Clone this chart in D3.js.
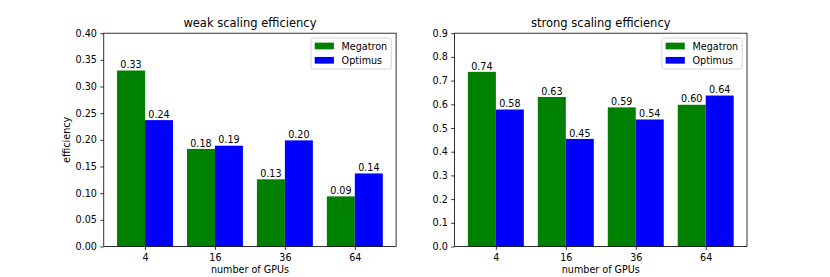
<!DOCTYPE html>
<html>
<head>
<meta charset="utf-8">
<script src="https://cdn.jsdelivr.net/npm/d3@7"></script>
<style>
  body { margin: 0; background: #fff; }
  svg { font-family: "DejaVu Sans", sans-serif; }
</style>
</head>
<body>
<div id="main"></div>
<script>
const gpus = ["4", "16", "36", "64"];
const seriesNames = ["Megatron", "Optimus"];
const seriesColors = ["green", "blue"];

const weakMegatron = [0.330, 0.183, 0.126, 0.094];
const weakOptimus = [0.237, 0.189, 0.199, 0.137];
const weakTicks = [0, 0.05, 0.10, 0.15, 0.20, 0.25, 0.30, 0.35, 0.40];

const strongMegatron = [0.737, 0.631, 0.587, 0.598];
const strongOptimus = [0.578, 0.454, 0.536, 0.637];
const strongTicks = [0, 0.1, 0.2, 0.3, 0.4, 0.5, 0.6, 0.7, 0.8, 0.9];

const width = 830, height = 277;
const plotTop = 33.2, plotBottom = 246.5;
const barW = 0.4;
const fs = 9.6, titleFs = 11.5;

const svg = d3.select("#main").append("svg")
    .attr("width", width)
    .attr("height", height);

function drawPanel(left, right, title, series, ticks, tickFmt, yLabel) {
    const g = svg.append("g");

    const x = d3.scaleLinear()
        .domain([-0.59, gpus.length - 1 + 0.59])
        .range([left, right]);
    const y = d3.scaleLinear()
        .domain([ticks[0], ticks[ticks.length - 1]])
        .range([plotBottom, plotTop]);

    // bars + value labels
    series.forEach((vals, s) => {
        const off = s === 0 ? -barW : 0;
        g.selectAll(null)
            .data(vals)
            .enter().append("rect")
            .attr("x", (d, i) => x(i + off))
            .attr("y", d => y(d))
            .attr("width", x(barW) - x(0))
            .attr("height", d => y(0) - y(d))
            .attr("fill", seriesColors[s]);

        g.selectAll(null)
            .data(vals)
            .enter().append("text")
            .attr("x", (d, i) => x(i + off + barW / 2))
            .attr("y", d => y(d) - 2.3)
            .attr("text-anchor", "middle")
            .attr("font-size", fs)
            .text(d => d.toFixed(2));
    });

    // axes
    const xAxis = d3.axisBottom(x)
        .tickValues(d3.range(gpus.length))
        .tickFormat(i => gpus[i])
        .tickSize(3.4)
        .tickPadding(3.4);
    const gx = g.append("g")
        .attr("transform", `translate(0,${plotBottom})`)
        .call(xAxis);

    const yAxis = d3.axisLeft(y)
        .tickValues(ticks)
        .tickFormat(tickFmt)
        .tickSize(3.4)
        .tickPadding(3.4);
    const gy = g.append("g")
        .attr("transform", `translate(${left},0)`)
        .call(yAxis);

    [gx, gy].forEach(a => {
        a.select(".domain").remove();
        a.selectAll(".tick line").attr("stroke", "#000").attr("stroke-width", 0.8);
        a.selectAll(".tick text")
            .attr("font-size", fs)
            .attr("fill", "#000")
            .attr("font-family", "DejaVu Sans, sans-serif");
    });
    gx.selectAll(".tick text").attr("dy", "0.8em");

    // frame
    g.append("rect")
        .attr("x", left)
        .attr("y", plotTop)
        .attr("width", right - left)
        .attr("height", plotBottom - plotTop)
        .attr("fill", "none")
        .attr("stroke", "#000")
        .attr("stroke-width", 0.8);

    // title and axis labels
    g.append("text")
        .attr("x", (left + right) / 2)
        .attr("y", plotTop - 6)
        .attr("text-anchor", "middle")
        .attr("font-size", titleFs)
        .text(title);

    g.append("text")
        .attr("x", (left + right) / 2)
        .attr("y", 273)
        .attr("text-anchor", "middle")
        .attr("font-size", fs)
        .text("number of GPUs");

    if (yLabel) {
        g.append("text")
            .attr("transform", `translate(${left - 34.2},${(plotTop + plotBottom) / 2}) rotate(-90)`)
            .attr("text-anchor", "middle")
            .attr("font-size", fs)
            .text(yLabel);
    }

    // legend
    const lw = 80.4, lh = 31;
    const lx = right - 4.8 - lw, ly = plotTop + 4.8;
    const leg = g.append("g").attr("transform", `translate(${lx},${ly})`);
    leg.append("rect")
        .attr("width", lw)
        .attr("height", lh)
        .attr("rx", 2)
        .attr("fill", "#fff")
        .attr("fill-opacity", 0.8)
        .attr("stroke", "#ccc")
        .attr("stroke-width", 0.8);
    seriesNames.forEach((name, s) => {
        const cy = 8 + s * 14.3;
        leg.append("rect")
            .attr("x", 3.8)
            .attr("y", cy - 3.35)
            .attr("width", 19.2)
            .attr("height", 6.7)
            .attr("fill", seriesColors[s]);
        leg.append("text")
            .attr("x", 30.7)
            .attr("y", cy + 3.5)
            .attr("font-size", fs)
            .text(name);
    });
}

drawPanel(103.75, 396.1, "weak scaling efficiency",
    [weakMegatron, weakOptimus], weakTicks, d => d.toFixed(2), "efficiency");
drawPanel(454.6, 747, "strong scaling efficiency",
    [strongMegatron, strongOptimus], strongTicks, d => d.toFixed(1), null);
</script>
</body>
</html>
